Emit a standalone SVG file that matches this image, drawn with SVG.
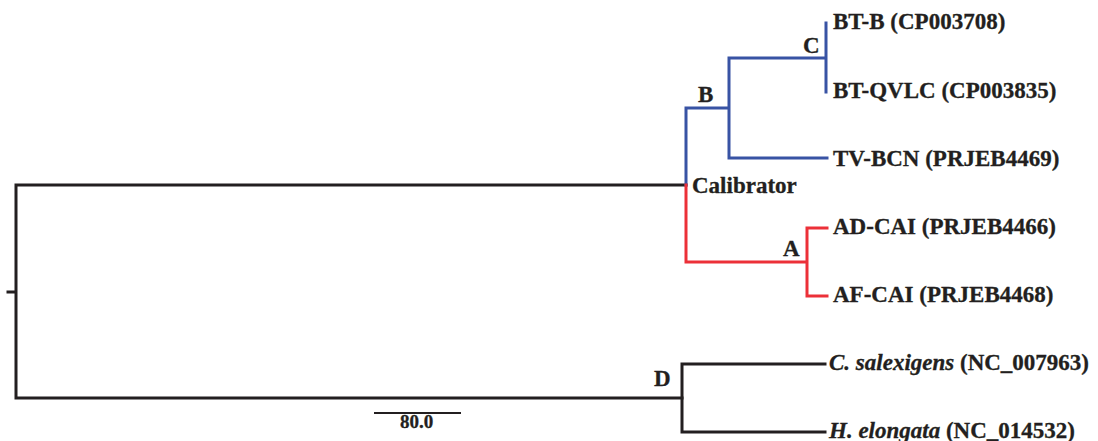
<svg xmlns="http://www.w3.org/2000/svg" width="1098" height="441" viewBox="0 0 1098 441">
<style>
.l{fill:none;stroke-width:3;stroke-linecap:square;stroke-linejoin:miter}
.k{stroke:#231f20}.b{stroke:#3853a4}.r{stroke:#ec3038}
text{font-family:"Liberation Serif","Times New Roman",serif;font-weight:bold;font-size:23px;fill:#231f20;stroke:#231f20;stroke-width:0.3}
.s{font-size:19px}
</style>
<rect width="1098" height="441" fill="#fff"/>
<g id="connectors">
<path class="l k" d="M8 292H16M16 185V398M16 185H686M16 398H682"/>
<path class="l b" d="M686 185V108H729M729 58V158M729 58H826M826 23V92M729 158H827"/>
<path class="l r" d="M686 185V262H807M807 228V296M807 228H827M807 296H827"/>
<path class="l k" d="M682 364V432M682 364H825M682 432H825"/>
<path d="M374 413H461" stroke="#231f20" stroke-width="2"/>
</g>
<g id="n-BTB"><text x="833" y="29">BT-B (CP003708)</text></g>
<g id="n-BTQVLC"><text x="833" y="98">BT-QVLC (CP003835)</text></g>
<g id="n-TVBCN"><text x="833" y="166">TV-BCN (PRJEB4469)</text></g>
<g id="n-ADCAI"><text x="833" y="234">AD-CAI (PRJEB4466)</text></g>
<g id="n-AFCAI"><text x="833" y="302">AF-CAI (PRJEB4468)</text></g>
<g id="n-Csal"><text x="829" y="370"><tspan font-style="italic">C. salexigens</tspan> (NC_007963)</text></g>
<g id="n-Helo"><text x="829" y="438"><tspan font-style="italic">H. elongata</tspan> (NC_014532)</text></g>
<g id="lbl-C"><text x="803" y="53">C</text></g>
<g id="lbl-B"><text x="698" y="102">B</text></g>
<g id="lbl-cal"><text x="692" y="193">Calibrator</text></g>
<g id="lbl-A"><text x="783" y="256">A</text></g>
<g id="lbl-D"><text x="654" y="386">D</text></g>
<g id="scale"><text class="s" x="400" y="428">80.0</text></g>
</svg>
